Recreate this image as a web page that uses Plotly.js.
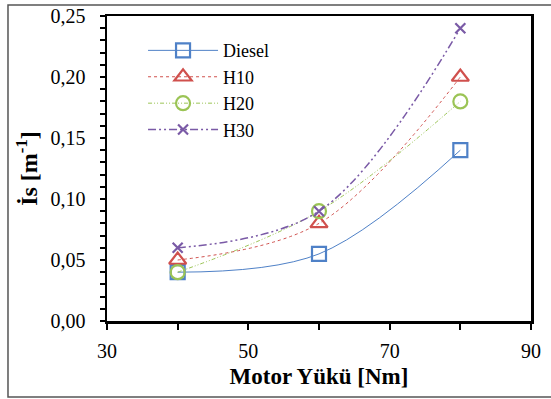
<!DOCTYPE html>
<html><head><meta charset="utf-8">
<script src="https://cdn.plot.ly/plotly-3.0.1.min.js"></script>
<style>html,body{margin:0;padding:0;background:#fff;}#chart{width:551px;height:399px;}</style>
</head><body><div id="chart"></div>
<script>
var loads = [40, 60, 80];
var diesel = [0.04, 0.055, 0.14];
var h10 = [0.05, 0.08, 0.20];
var h20 = [0.04, 0.09, 0.18];
var h30 = [0.06, 0.09, 0.24];
var names = ['Diesel', 'H10', 'H20', 'H30'];

var font = 'Liberation Serif';
function tr(y, name, color, dash, width, symbol, size) {
  return {x: loads, y: y, name: name, type: 'scatter', mode: 'lines+markers',
    line: {shape: 'spline', smoothing: 1, color: color, dash: dash, width: width},
    marker: {symbol: symbol, size: size, color: color, line: {color: color, width: 2.2}}};
}
var data = [
  tr(diesel, names[0], '#4F81C7', 'solid', 1, 'square-open', 14),
  tr(h10, names[1], '#D0504D', 'dot', 1, 'triangle-up-open', 15),
  tr(h20, names[2], '#9BC455', '4px,2px,1px,2px,1px,2px', 1, 'circle-open', 14),
  tr(h30, names[3], '#7A5AA6', '8px,3px,2px,3px,2px,3px', 1.5, 'x-thin-open', 10)
];

var layout = {
  width: 551, height: 399,
  margin: {l: 107, r: 20, t: 16, b: 78},
  paper_bgcolor: '#fff', plot_bgcolor: '#fff',
  font: {family: font, color: '#000', size: 18},
  separators: ', ',
  showlegend: true,
  legend: {x: 0.085, y: 0.947, xanchor: 'left', yanchor: 'top', bgcolor: 'rgba(0,0,0,0)',
    font: {family: font, size: 18, color: '#000'}, itemwidth: 70, tracegroupgap: 0},
  xaxis: {range: [30, 90], dtick: 20, tick0: 30, ticks: 'outside', ticklen: 6, tickwidth: 2, tickcolor: '#000',
    minor: {dtick: 10, ticks: 'outside', ticklen: 6, tickwidth: 2, tickcolor: '#000'},
    showgrid: false, zeroline: false, showline: true, linewidth: 2.5, linecolor: '#000', mirror: true,
    tickfont: {family: font, size: 20}, ticklabelstandoff: 4,
    title: {text: '<b>Motor Yükü [Nm]</b>', font: {family: font, size: 23}, standoff: 8}},
  yaxis: {range: [0, 0.25], dtick: 0.05, tickformat: '.2f', ticks: 'outside', ticklen: 5, tickwidth: 2, tickcolor: '#000',
    minor: {dtick: 0.01, ticks: 'outside', ticklen: 5, tickwidth: 2, tickcolor: '#000'},
    showgrid: false, zeroline: false, showline: true, linewidth: 2.5, linecolor: '#000', mirror: true,
    tickfont: {family: font, size: 20}, ticklabelstandoff: 10,
    title: {text: '<b>İs [m<sup>-1</sup>]</b>', font: {family: font, size: 24}, standoff: 6}},
  shapes: [{type: 'rect', xref: 'paper', yref: 'paper', x0: -0.2335, x1: 1.06, y0: -0.249, y1: 1.036,
    line: {color: '#555', width: 1.5}, fillcolor: 'rgba(0,0,0,0)', layer: 'below'}]
};
Plotly.newPlot('chart', data, layout, {displayModeBar: false, staticPlot: true});
</script></body></html>
